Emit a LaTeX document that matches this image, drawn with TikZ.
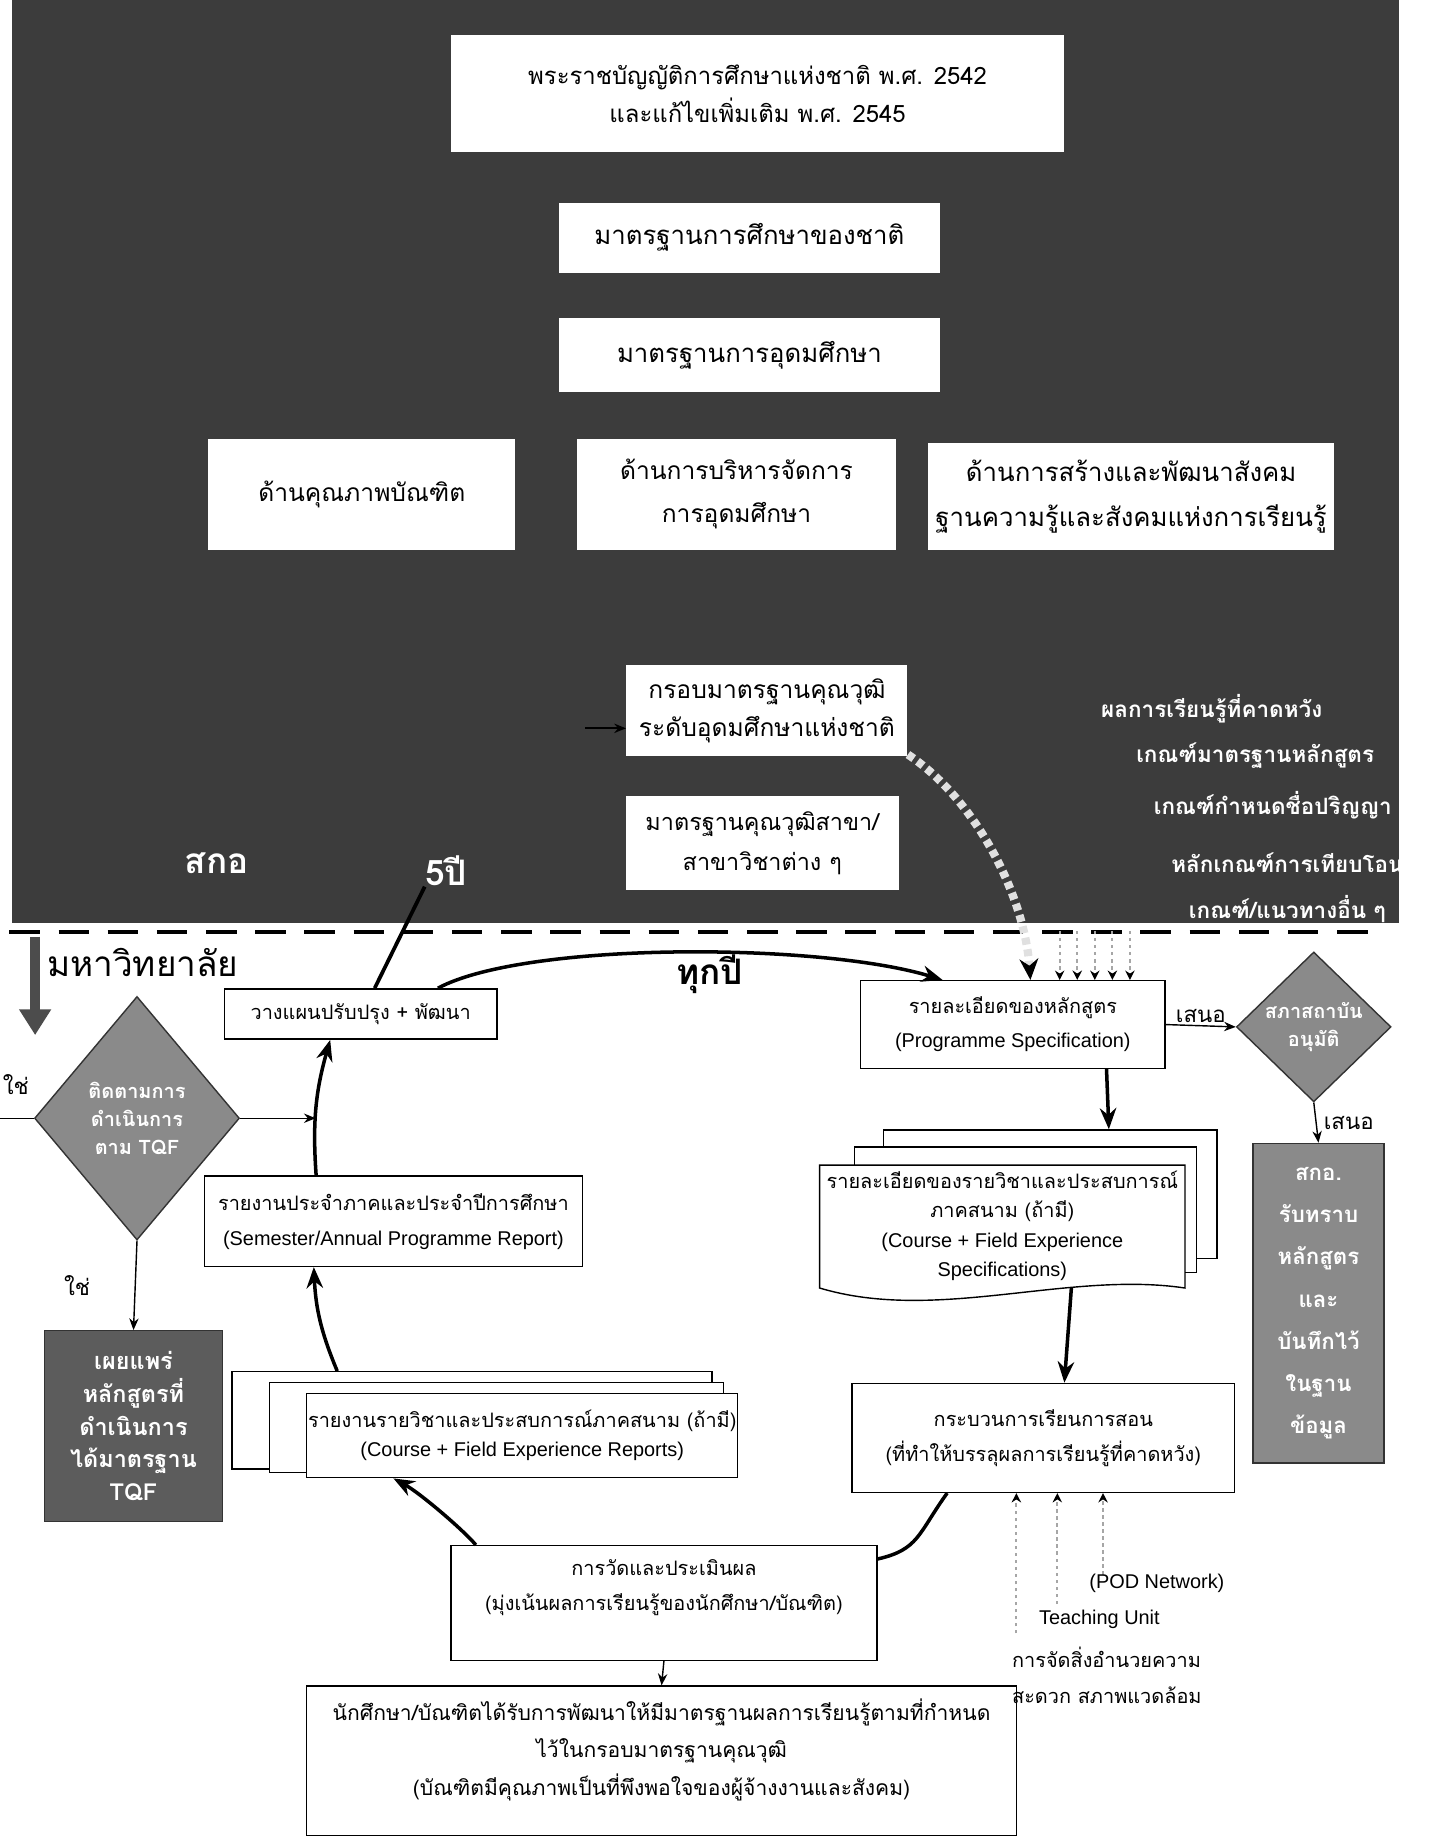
\documentclass[tikz,border=0pt]{standalone}
\usepackage{fontspec}
\setmainfont[Script=Thai]{Loma}
\setsansfont{Liberation Sans}
\usetikzlibrary{positioning,arrows.meta,shapes.geometric,calc}

\definecolor{panel}{RGB}{60,60,60}
\definecolor{greybox}{RGB}{138,138,138}
\definecolor{darkbox}{RGB}{92,92,92}
\newcommand\engl[1]{{\sffamily #1}}

\begin{document}
\begin{tikzpicture}[
	x=0.5pt, y=0.5pt,
	std/.style={
		fill=white,
		inner sep=0pt,
		align=center,
		font=\fontsize{10.5}{17}\selectfont,
	},
	cbox/.style={
		draw,
		fill=white,
		line width=0.6pt,
		inner sep=0pt,
		align=center,
		font=\fontsize{8.5}{14.5}\selectfont,
	},
	dec/.style={
		diamond,
		draw=black!80,
		line width=0.6pt,
		fill=greybox,
		text=white,
		inner sep=0pt,
		align=center,
		font=\bfseries\fontsize{8.5}{12}\selectfont,
	},
	gbox/.style={
		draw=black!80,
		line width=0.6pt,
		text=white,
		inner sep=0pt,
		align=center,
		font=\bfseries\fontsize{9.5}{14}\selectfont,
	},
	listitem/.style={anchor=west, text=white, inner sep=0pt, font=\bfseries\fontsize{9.6}{12}\selectfont},
	big/.style={inner sep=0pt, font=\fontsize{15}{18}\selectfont},
	lbl/.style={inner sep=1pt, font=\fontsize{9.5}{12}\selectfont},
	cyc/.style={line width=1.5pt, -{Stealth[length=9pt,width=7pt]}},
	cycline/.style={line width=1.5pt},
	arr/.style={line width=0.6pt, -{Stealth[length=5pt,width=4pt]}},
	wdots/.style={black!12, line width=3.5pt, dash pattern=on 3pt off 2pt, -{Stealth[black,length=9pt,width=8pt]}},
	gdots/.style={black!35, line width=0.8pt, dash pattern=on 1.5pt off 1.5pt, -{Stealth[black,length=4pt,width=4pt]}},
]

\useasboundingbox (0,0) rectangle (1230,-1568);
\fill[panel] (10,0) rectangle (1195,-788);

\node[std, font=\fontsize{10.2}{16}\selectfont, minimum width=262pt, minimum height=50pt] (act) at (647,-80)
	{พระราชบัญญัติการศึกษาแห่งชาติ พ.ศ. 2542\\และแก้ไขเพิ่มเติม พ.ศ. 2545};
\node[std, font=\fontsize{11}{16}\selectfont, minimum width=163pt, minimum height=30pt] (natstd) at (640,-203) {มาตรฐานการศึกษาของชาติ};
\node[std, font=\fontsize{11}{16}\selectfont, minimum width=163pt, minimum height=31.5pt] (hestd) at (640,-303) {มาตรฐานการอุดมศึกษา};
\node[std, minimum width=131pt, minimum height=47.5pt] (grad) at (309,-422) {ด้านคุณภาพบัณฑิต};
\node[std, font=\fontsize{10.5}{18.5}\selectfont, minimum width=136.5pt, minimum height=47.5pt] (mgmt) at (629,-422)
	{ด้านการบริหารจัดการ\\การอุดมศึกษา};
\node[std, font=\fontsize{11}{19}\selectfont, minimum width=173.5pt, minimum height=46pt] (soc) at (966,-424)
	{ด้านการสร้างและพัฒนาสังคม\\ฐานความรู้และสังคมแห่งการเรียนรู้};
\node[std, font=\fontsize{10.5}{16}\selectfont, minimum width=120pt, minimum height=39pt] (tqf) at (655,-607)
	{กรอบมาตรฐานคุณวุฒิ\\ระดับอุดมศึกษาแห่งชาติ};
\node[std, font=\fontsize{10}{17}\selectfont, minimum width=116.5pt, minimum height=40pt] (subj) at (651,-720)
	{มาตรฐานคุณวุฒิสาขา/\\สาขาวิชาต่าง ๆ};

\node[listitem] (lo1) at (940,-605) {ผลการเรียนรู้ที่คาดหวัง};
\node[listitem] (lo2) at (970,-645) {เกณฑ์มาตรฐานหลักสูตร};
\node[listitem] (lo3) at (985,-688) {เกณฑ์กำหนดชื่อปริญญา};
\node[listitem] (lo4) at (1000,-737) {หลักเกณฑ์การเทียบโอน};
\node[listitem] (lo5) at (1015,-776) {เกณฑ์/แนวทางอื่น ๆ};

\node[big, text=white, font=\bfseries\fontsize{15}{18}\selectfont] (sko) at (185,-737) {สกอ};
\node[big, text=white, font=\bfseries\fontsize{15}{18}\selectfont] (five) at (381,-744) {5ปี};

\draw[line width=1.5pt, dash pattern=on 13pt off 8pt] (8,-796) -- (1182,-796);

\coordinate (downA) at (30,-800);
\coordinate (downB) at (30,-884);
\draw[black!70, line width=4pt, -{Triangle[width=13pt,length=11pt]}] (downA) -- (downB);
\node[big] (uni) at (122,-822) {มหาวิทยาลัย};

% วงจรภายในมหาวิทยาลัย
\node[cbox, minimum width=116.5pt, minimum height=21.5pt] (plan) at (308,-866) {วางแผนปรับปรุง + พัฒนา};
\node[cbox, minimum width=130pt, minimum height=37.5pt] (prog) at (865,-875)
	{รายละเอียดของหลักสูตร\\\engl{(Programme Specification)}};

\node[cbox, minimum width=142.5pt, minimum height=55pt] (courseB) at (897,-1020) {};
\node[cbox, minimum width=146pt, minimum height=53.5pt] (courseM) at (876,-1033) {};
\filldraw[fill=white, line width=0.6pt] (700,-995) -- (1012,-995) -- (1012,-1100)
	.. controls (912,-1085) and (800,-1130) .. (700,-1100) -- cycle;
\node[cbox, draw=none, fill=none, font=\fontsize{8.5}{12.5}\selectfont, minimum width=156pt, minimum height=52pt] (course) at (856,-1047)
	{รายละเอียดของรายวิชาและประสบการณ์\\ภาคสนาม (ถ้ามี)\\\engl{(Course + Field Experience}\\\engl{Specifications)}};

\node[cbox, font=\fontsize{8.5}{15}\selectfont, minimum width=163.5pt, minimum height=46.5pt] (process) at (891,-1228)
	{กระบวนการเรียนการสอน\\(ที่ทำให้บรรลุผลการเรียนรู้ที่คาดหวัง)};
\node[cbox, font=\fontsize{8.5}{15}\selectfont, minimum width=182pt, minimum height=49pt] (measure) at (567,-1369)
	{การวัดและประเมินผล\\(มุ่งเน้นผลการเรียนรู้ของนักศึกษา/บัณฑิต)\\~};

\node[cbox, minimum width=205pt, minimum height=41.5pt] (repB) at (403,-1213) {};
\node[cbox, minimum width=194pt, minimum height=38.5pt] (repM) at (424,-1219) {};
\node[cbox, font=\fontsize{8.5}{12.5}\selectfont, minimum width=184pt, minimum height=36pt] (rep) at (446,-1226)
	{รายงานรายวิชาและประสบการณ์ภาคสนาม (ถ้ามี)\\\engl{(Course + Field Experience Reports)}};

\node[cbox, font=\fontsize{8.5}{15}\selectfont, minimum width=161.5pt, minimum height=38.5pt] (sem) at (336,-1043)
	{รายงานประจำภาคและประจำปีการศึกษา\\\engl{(Semester/Annual Programme Report)}};

\node[cbox, font=\fontsize{9}{16}\selectfont, minimum width=303pt, minimum height=64pt] (final) at (565,-1504)
	{นักศึกษา/บัณฑิตได้รับการพัฒนาให้มีมาตรฐานผลการเรียนรู้ตามที่กำหนด\\ไว้ในกรอบมาตรฐานคุณวุฒิ\\(บัณฑิตมีคุณภาพเป็นที่พึงพอใจของผู้จ้างงานและสังคม)\\[-4pt]~};

\node[dec, minimum width=87.5pt, minimum height=104pt] (follow) at (117,-955) {ติดตามการ\\ดำเนินการ\\ตาม TQF};
\node[gbox, fill=darkbox, font=\bfseries\fontsize{10}{14}\selectfont, minimum width=76pt, minimum height=81.5pt] (publish) at (114,-1218)
	{เผยแพร่\\หลักสูตรที่\\ดำเนินการ\\ได้มาตรฐาน\\TQF};
\node[dec, minimum width=66pt, minimum height=64pt] (council) at (1122,-877) {สภาสถาบัน\\อนุมัติ};
\node[gbox, fill=greybox, font=\bfseries\fontsize{9.5}{18}\selectfont, minimum width=56pt, minimum height=136.5pt] (record) at (1126,-1113)
	{สกอ.\\รับทราบ\\หลักสูตร\\และ\\บันทึกไว้\\ในฐาน\\ข้อมูล};

% เส้นเชื่อม
\draw[cyc] ($(plan.north)+(66,0)$) .. controls +(75,40) and +(-105,32) .. ($(prog.north)+(-60,0)$);
\node[big, font=\bfseries\fontsize{15}{18}\selectfont] (every) at (606,-832) {ทุกปี};
\draw[cyc] ($(prog.south)+(80,0)$) -- ($(courseB.north)+(50,0)$);
\draw[cyc] ($(course.south)+(59,0)$) -- ($(process.north)+(18,0)$);
\draw[cycline] ($(process.south west)+(82,0)$) .. controls +(-25,-35) and +(35,8) .. ($(measure.north east)+(0,-12)$);
\draw[cyc] ($(measure.north west)+(22,0)$) .. controls +(-12,14) and +(22,-12) .. ($(rep.south)+(-110,0)$);
\draw[cyc] ($(repB.north)+(-115,0)$) to[bend left=10] ($(sem.south)+(-68,0)$);
\draw[cyc] ($(sem.north)+(-66,0)$) to[bend left=10] coordinate[pos=0.45] (join) ($(plan.south)+(-26,0)$);

\draw[line width=1.6pt] (five.south west) -- ($(plan.north)+(12,0)$);

\draw[wdots] ($(tqf.south east)+(0,2)$) .. controls +(60,-40) and +(-5,70) .. ($(prog.north)+(15,0)$);
\foreach \i/\xx in {1/905,2/920,3/935,4/950,5/965} {
	\coordinate (src\i) at (\xx,-795);
	\draw[gdots] (src\i) -- (src\i |- prog.north);
}
\coordinate (tqfin) at (500,-622);
\draw[arr, line width=0.8pt] (tqfin) -- (tqfin -| tqf.west);

\coordinate (edge) at (0,-955);
\draw[line width=0.6pt] (edge) -- (follow.west);
\node[lbl, anchor=west] (no) at (0,-926) {ใช่};
\draw[arr] (follow.east) -- (follow.east -| join);
\draw[arr] (follow.south) -- (publish.north) node[lbl, midway, left=18pt] (yes) {ใช่};

\draw[arr] (prog.east) -- (council.west) node[lbl, midway, above] (prop1) {เสนอ};
\draw[arr] (council.south) -- (record.north) node[lbl, midway, right=2pt] (prop2) {เสนอ};

\draw[arr] (measure.south) -- (final.north);

\coordinate (pod1) at (942,-1345);
\coordinate (pod2) at (903,-1370);
\coordinate (pod3) at (868,-1395);
\foreach \p in {pod1,pod2,pod3}
	\draw[gdots] (\p) -- (\p |- process.south);
\node[lbl, anchor=west, font=\sffamily\fontsize{8.5}{12}\selectfont] (podnet) at (928,-1352) {(POD Network)};
\node[lbl, anchor=west, font=\sffamily\fontsize{8.5}{12}\selectfont] (tunit) at (885,-1383) {Teaching Unit};
\node[lbl, anchor=north west, align=left, font=\fontsize{8.5}{15.5}\selectfont] (facil) at (862,-1404)
	{การจัดสิ่งอำนวยความ\\สะดวก สภาพแวดล้อม};

\end{tikzpicture}
\end{document}
